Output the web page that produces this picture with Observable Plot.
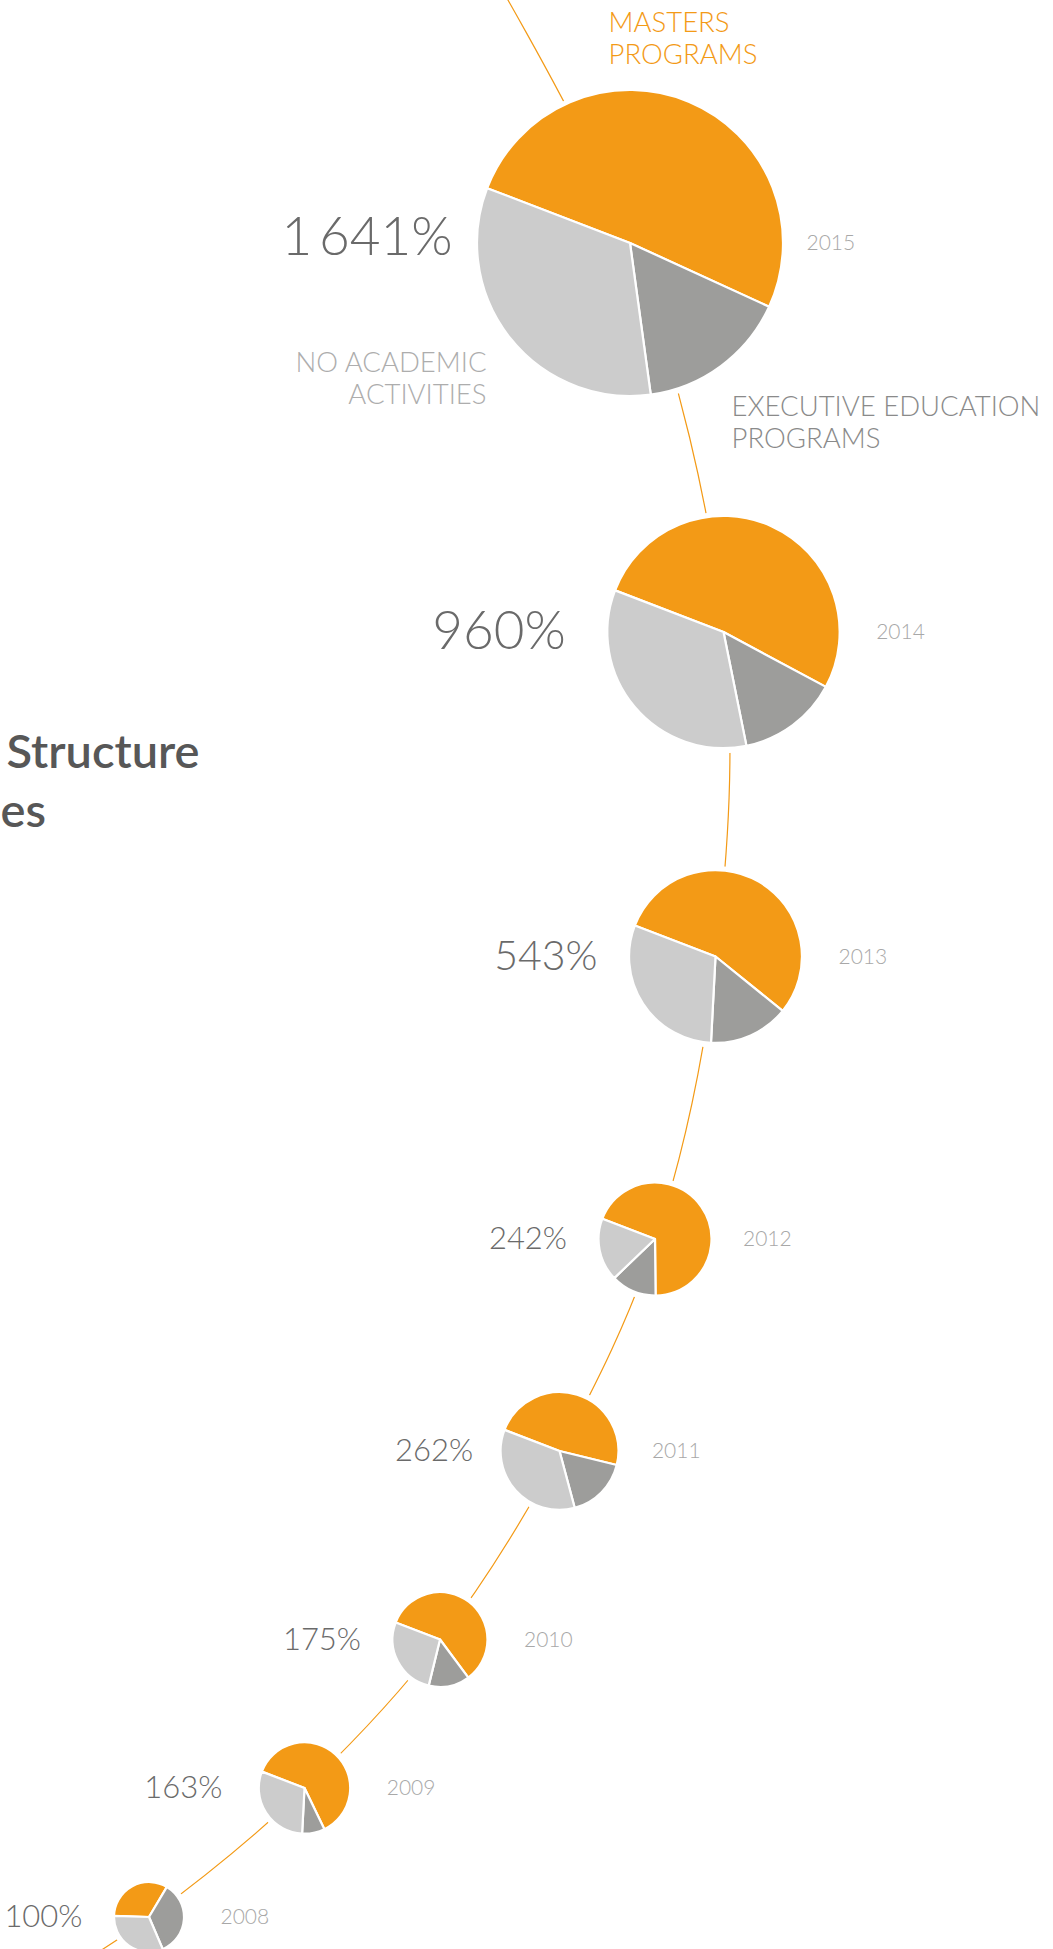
<!DOCTYPE html>
<html>
<head>
<meta charset="utf-8">
<script src="https://cdn.jsdelivr.net/npm/d3@7"></script>
<script src="https://cdn.jsdelivr.net/npm/@observablehq/plot@0.6"></script>
<style>
  html, body { margin: 0; padding: 0; background: #fff; overflow: hidden; }
  #chart svg { display: block; overflow: hidden; }
</style>
</head>
<body>
<div id="chart"></div>
<script>
// ---------------- DATA ----------------
const years = [2008, 2009, 2010, 2011, 2012, 2013, 2014, 2015];
const growthIndex = [100, 163, 175, 262, 242, 543, 960, 1641];        // % of 2008 level
const mastersShare = [33, 62, 59, 48, 69, 55, 52, 51];                 // % of the year
const executiveShare = [35, 8, 14, 17, 13, 15, 14, 16];
const noAcademicShare = [32, 30, 27, 35, 18, 30, 34, 33];
const segmentNames = ["MASTERS\nPROGRAMS", "EXECUTIVE EDUCATION\nPROGRAMS", "NO ACADEMIC\nACTIVITIES"];
const titleLines = ["Structure", "es"];

// ---------------- LAYOUT (free-form path of the pies) ----------------
const W = 1053, H = 1949;
const pieX = [149, 304.5, 440, 559.5, 655, 715.5, 723.5, 630];
const pieY = [1917, 1788, 1639.5, 1451, 1239, 956.5, 632, 243];
const pieRotation = [-88, -69, -69, -69, -69, -69, -69, -69];          // degrees, clockwise from 12 o'clock
const pathStart = {x: 35, y: 1990}, pathEnd = {x: 455, y: -90};      // the guide line runs off the page

// ---------------- STYLE ----------------
const orange = "#F39A16";
const segmentColors = [orange, "#9D9D9B", "#CCCCCC"];
const segmentTextColors = [orange, "#8a8a8a", "#adadad"];
const valueSize = {2015: 53, 2014: 53, 2013: 41};
const valueGap = {2015: 25, 2014: 42, 2011: 28, 2009: 37};
const valueDy = {2015: -5};
const yearGap = {2015: 23, 2012: 31, 2011: 33};

const rOptions = {type: "sqrt", domain: [100, 1641], range: [35, 153]};
const rScale = Plot.scale({r: rOptions});
const rad = v => rScale.apply(v);

const fmt = d3.formatLocale({thousands: "\u2009", grouping: [3], decimal: "."}).format(",");

const rows = years.map((year, i) => ({
  year,
  growth: growthIndex[i],
  shares: [mastersShare[i], executiveShare[i], noAcademicShare[i]],
  x: pieX[i],
  y: pieY[i],
  rot: pieRotation[i]
}));

const path = [pathStart, ...rows.map(d => ({x: d.x, y: d.y})), pathEnd];

const segmentLabels = [
  {text: segmentNames[0], x: 608, y: 63, anchor: "start", fill: segmentTextColors[0]},
  {text: segmentNames[1], x: 731, y: 447, anchor: "start", fill: segmentTextColors[1]},
  {text: segmentNames[2], x: 486, y: 403, anchor: "end", fill: segmentTextColors[2]}
];
const titleLayout = [
  {text: titleLines[0], x: 6, y: 767},
  {text: titleLines[1], x: 0, y: 826}
];

// custom mark: pie slices placed through the plot's x, y and r scales
function pies(index, scales) {
  const g = d3.create("svg:g").attr("class", "pies");
  const rf = scales.r || rad;
  for (const d of rows) {
    const r = rf(d.growth);
    const a0 = d.rot * Math.PI / 180;
    const arcs = d3.pie().sort(null).value(v => v).startAngle(a0).endAngle(a0 + 2 * Math.PI)(d.shares);
    const arc = d3.arc().innerRadius(0).outerRadius(r);
    g.append("g")
      .attr("transform", `translate(${scales.x(d.x)},${scales.y(d.y)})`)
      .selectAll("path")
      .data(arcs)
      .join("path")
      .attr("d", arc)
      .attr("fill", (s, j) => segmentColors[j])
      .attr("stroke", "#fff")
      .attr("stroke-width", 2.2)
      .attr("stroke-linejoin", "round");
  }
  return g.node();
}

const segText = (anchor) => segmentLabels.filter(d => d.anchor === anchor).map(d =>
  Plot.text([d], {
    x: "x", y: "y", text: "text",
    textAnchor: anchor,
    lineAnchor: "bottom",
    lineHeight: 1.15,
    fontSize: 27.5,
    fontWeight: 300,
    fill: d.fill
  })
);

const chart = Plot.plot({
  width: W,
  height: H,
  margin: 0,
  x: {domain: [0, W], range: [0, W], axis: null},
  y: {domain: [0, H], range: [0, H], axis: null},
  r: rOptions,
  style: {fontFamily: "Lato, 'Open Sans', sans-serif", background: "#fff"},
  marks: [
    Plot.line(path, {x: "x", y: "y", curve: "catmull-rom", stroke: orange, strokeWidth: 1.2}),
    Plot.dot(rows, {x: "x", y: "y", r: "growth", fill: "#fff", stroke: "#fff", strokeWidth: 9}),
    pies,
    Plot.text(rows, {
      x: d => d.x - rad(d.growth) - (valueGap[d.year] ?? 32),
      y: d => d.y + (valueDy[d.year] ?? 0),
      text: d => fmt(d.growth) + "%",
      textAnchor: "end",
      lineAnchor: "middle",
      fontSize: d => valueSize[d.year] ?? 31,
      fontWeight: 300,
      fill: "#6a6a6a"
    }),
    Plot.text(rows, {
      x: d => d.x + rad(d.growth) + (yearGap[d.year] ?? 36),
      y: "y",
      text: d => String(d.year),
      textAnchor: "start",
      lineAnchor: "middle",
      fontSize: 21,
      fontWeight: 300,
      fill: "#a8a8a8"
    }),
    ...segText("start"),
    ...segText("end"),
    Plot.text(titleLayout, {
      x: "x", y: "y", text: "text",
      textAnchor: "start",
      lineAnchor: "bottom",
      fontSize: 47,
      fontWeight: 600,
      fill: "#575757"
    })
  ]
});

document.getElementById("chart").append(chart);
</script>
</body>
</html>
